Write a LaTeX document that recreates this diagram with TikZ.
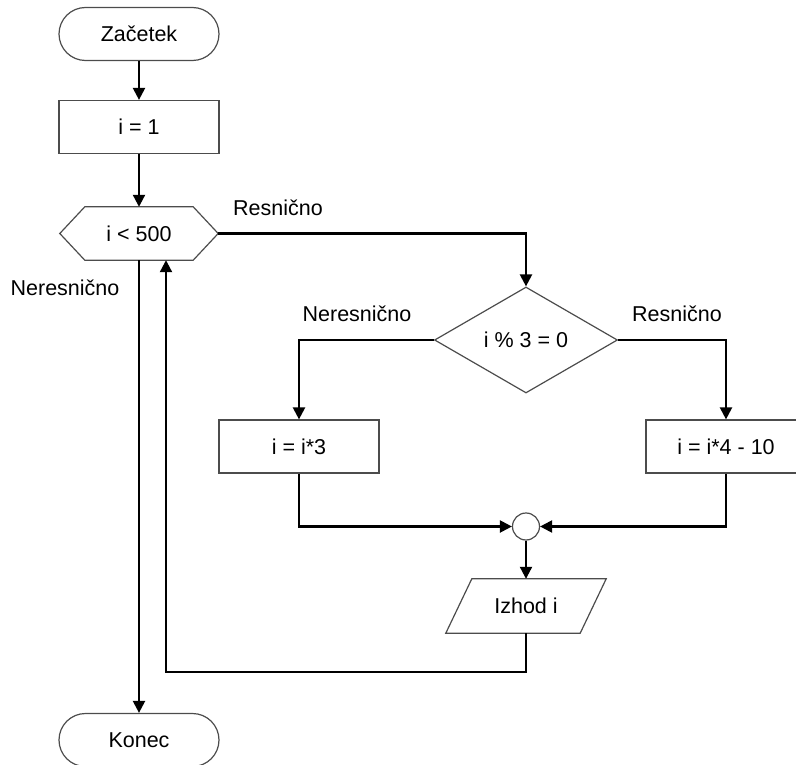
\documentclass[tikz,border=0pt]{standalone}
\usepackage{fontspec}
\setmainfont{Liberation Sans}
\usetikzlibrary{arrows.meta,shapes.geometric}
\begin{document}
\begin{tikzpicture}[x=1pt,y=-1pt,
  every node/.style={font=\fontsize{21.5}{25}\selectfont, text=black},
  shapeline/.style={draw=black!70, line width=1.2pt},
  terminal/.style={shapeline, rectangle, rounded corners=26.5pt, minimum width=160pt, minimum height=53pt, inner sep=0pt},
  procbox/.style={shapeline, rectangle, minimum width=160pt, minimum height=53pt, inner sep=0pt},
  hexnode/.style={rectangle, minimum width=158pt, minimum height=53pt, inner sep=0pt},
  decide/.style={shapeline, diamond, minimum width=183pt, minimum height=106pt, inner sep=0pt},
  joint/.style={shapeline, circle, minimum size=27pt, inner sep=0pt},
  ionode/.style={rectangle, minimum width=134pt, minimum height=54pt, inner sep=0pt},
  conn/.style={draw=black, line width=2.2pt, -{Triangle[length=12pt,width=12pt]}},
  lbl/.style={inner sep=0pt}
]
\path[use as bounding box] (0,0) rectangle (796,765);
\clip (0,0) rectangle (796,765);

\node[terminal] (start) at (139,34) {Začetek};
\node[procbox] (init) at (139,127) {i = 1};
\node[hexnode] (loop) at (139,233.5) {i < 500};
\draw[shapeline] (loop.west) -- ([xshift=25pt]loop.north west) -- ([xshift=-25pt]loop.north east) -- (loop.east) -- ([xshift=-25pt]loop.south east) -- ([xshift=25pt]loop.south west) -- cycle;
\node[decide] (cond) at (526,340) {i \% 3 = 0};
\node[procbox] (left) at (299,446.5) {i = i*3};
\node[procbox] (right) at (726,446.5) {i = i*4 - 10};
\node[joint] (join) at (526,526.5) {};
\node[ionode] (out) at (526,606) {Izhod i};
\draw[shapeline] ([xshift=13pt]out.north west) -- ([xshift=13pt]out.north east) -- ([xshift=-13pt]out.south east) -- ([xshift=-13pt]out.south west) -- cycle;
\node[terminal] (end) at (139,740) {Konec};

\node[lbl] (l1) at (278,208) {Resnično};
\node[lbl] (l2) at (65,288) {Neresnično};
\node[lbl] (l3) at (357,314) {Neresnično};
\node[lbl] (l4) at (677,314) {Resnično};

\coordinate (back) at (166,672);

\draw[conn] (start) -- (init);
\draw[conn] (init) -- (loop);
\draw[conn] (loop.east) -| (cond.north);
\draw[conn] (loop.south) -- (end.north);
\draw[conn] (cond.west) -| (left.north);
\draw[conn] (cond.east) -| (right.north);
\draw[conn] (left.south) |- (join.west);
\draw[conn] (right.south) |- (join.east);
\draw[conn] (join.south) -- (out.north);
\draw[conn] (out.south) |- (back) -- (back |- loop.south);
\end{tikzpicture}
\end{document}
